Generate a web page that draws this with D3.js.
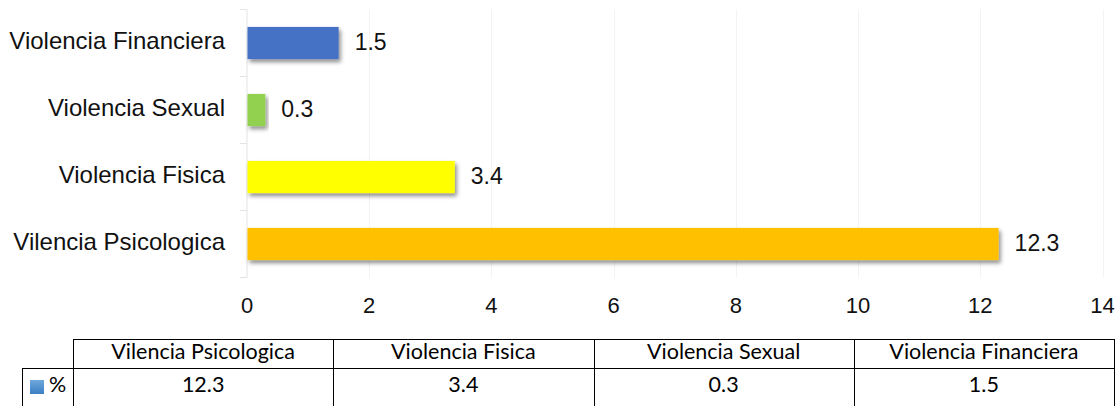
<!DOCTYPE html>
<html><head><meta charset="utf-8">
<script src="https://cdn.jsdelivr.net/npm/d3@7"></script>
<style>body{margin:0;background:#fff}svg{display:block}</style>
</head><body>
<svg id="c" width="1119" height="406"></svg>
<script>
const categories = ["Vilencia Psicologica", "Violencia Fisica", "Violencia Sexual", "Violencia Financiera"];
const values = [12.3, 3.4, 0.3, 1.5];
const barColors = ["#FFC000", "#FFFF00", "#92D050", "#4472C4"];
const xTicks = [0, 2, 4, 6, 8, 10, 12, 14];
const seriesName = "%";

(function(){
const svg = d3.select("#c");
const defs = svg.append("defs");
const f = defs.append("filter").attr("id","sh").attr("x","-10%").attr("y","-30%").attr("width","130%").attr("height","180%");
f.append("feDropShadow").attr("dx",2).attr("dy",3).attr("stdDeviation",2).attr("flood-color","#000").attr("flood-opacity",0.45);
const lg = defs.append("linearGradient").attr("id","lg").attr("x1",0).attr("y1",0).attr("x2",0).attr("y2",1);
lg.append("stop").attr("offset",0).attr("stop-color","#6FA8DC");
lg.append("stop").attr("offset",1).attr("stop-color","#3C7FC4");

const x = d3.scaleLinear().domain([0,14]).range([247,1102.5]);
const yDom = categories.slice().reverse();
const band = d3.scaleBand().domain(yDom).range([9.5,277.5]);
const y = d3.scaleBand().domain(yDom).range([9.5,277.5]).paddingInner(0.52).paddingOuter(0.26);

svg.append("g").selectAll("line").data(xTicks.slice(1)).join("line")
  .attr("x1",d=>Math.round(x(d))+0.5).attr("x2",d=>Math.round(x(d))+0.5).attr("y1",9.5).attr("y2",277.5)
  .attr("stroke","#f3f3f3").attr("stroke-width",1);

const ya = svg.append("g");
ya.append("line").attr("x1",247).attr("x2",247).attr("y1",9.5).attr("y2",277.5).attr("stroke","#e3e3e3");
const bounds = yDom.map(d=>band(d)).concat([277.5]);
ya.selectAll("line.t").data(bounds).join("line").attr("class","t")
  .attr("x1",240).attr("x2",247).attr("y1",d=>d).attr("y2",d=>d).attr("stroke","#e3e3e3");

svg.append("g").selectAll("text").data(categories).join("text")
  .attr("x",225).attr("y",d=>band(d)+band.bandwidth()/2)
  .attr("text-anchor","end").attr("dominant-baseline","middle")
  .attr("font-family","Liberation Sans, Arial, sans-serif").attr("font-size",24).attr("fill","#111")
  .text(d=>d);

svg.append("g").selectAll("rect").data(categories).join("rect")
  .attr("x",x(0)+0.5).attr("y",d=>y(d)).attr("width",(d,i)=>x(values[i])-x(0)-0.5).attr("height",y.bandwidth())
  .attr("fill",(d,i)=>barColors[i]).attr("filter","url(#sh)");

svg.append("g").selectAll("text").data(categories).join("text")
  .attr("x",(d,i)=>x(values[i])+16).attr("y",d=>y(d)+y.bandwidth()/2+1)
  .attr("dominant-baseline","middle")
  .attr("font-family","Liberation Sans, Arial, sans-serif").attr("font-size",23).attr("fill","#111")
  .text((d,i)=>values[i]);

svg.append("g").selectAll("text").data(xTicks).join("text")
  .attr("x",d=>x(d)).attr("y",307).attr("text-anchor","middle").attr("dominant-baseline","middle")
  .attr("font-family","Liberation Sans, Arial, sans-serif").attr("font-size",22).attr("fill","#111")
  .text(d=>d);

const colX = d3.scaleBand().domain(categories).range([73,1114]);
const tTop = 339, tMid = 368, tBot = 412;
const tg = svg.append("g").attr("font-family","Lato, Open Sans, sans-serif").attr("font-size",21.5).attr("fill","#000");
tg.append("line").attr("x1",73).attr("x2",1114).attr("y1",tTop+0.5).attr("y2",tTop+0.5).attr("stroke","#000");
tg.append("line").attr("x1",22).attr("x2",1114).attr("y1",tMid+0.5).attr("y2",tMid+0.5).attr("stroke","#000");
tg.append("line").attr("x1",22.5).attr("x2",22.5).attr("y1",tMid).attr("y2",tBot).attr("stroke","#000");
const vx = categories.map(c=>colX(c)).concat([1114]);
tg.selectAll("line.v").data(vx).join("line").attr("class","v")
  .attr("x1",d=>Math.round(d)+0.5).attr("x2",d=>Math.round(d)+0.5).attr("y1",tTop).attr("y2",tBot).attr("stroke","#000");
tg.selectAll("text.h").data(categories).join("text").attr("class","h")
  .attr("x",d=>colX(d)+colX.bandwidth()/2).attr("y",(tTop+tMid)/2)
  .attr("text-anchor","middle").attr("dominant-baseline","middle").text(d=>d);
tg.selectAll("text.v").data(values).join("text").attr("class","v")
  .attr("x",(d,i)=>colX(categories[i])+colX.bandwidth()/2).attr("y",387)
  .attr("text-anchor","middle").attr("dominant-baseline","middle").text(d=>d);
tg.append("rect").attr("x",30).attr("y",380).attr("width",14).attr("height",14).attr("fill","url(#lg)");
tg.append("text").attr("x",49).attr("y",387).attr("dominant-baseline","middle").text(seriesName);
})();
</script>
</body></html>
